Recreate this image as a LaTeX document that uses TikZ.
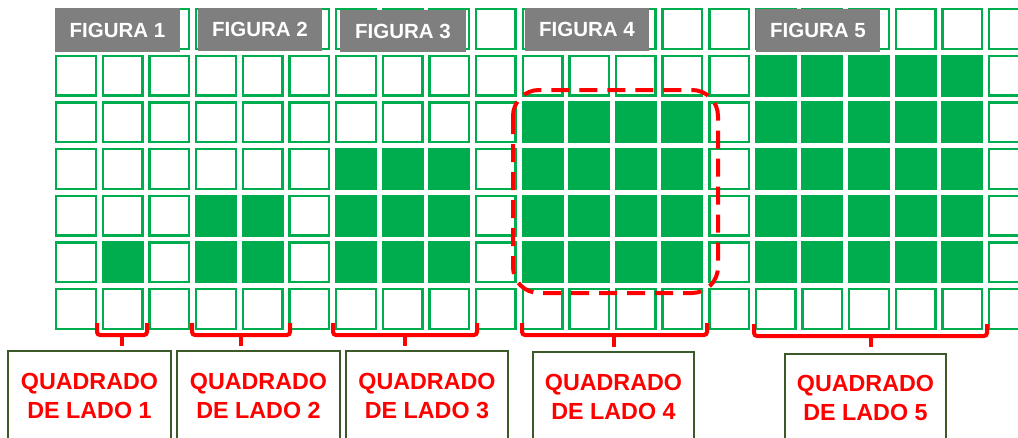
\documentclass[tikz,border=0pt]{standalone}
\usepackage{fontspec}
\setmainfont{Liberation Sans}
\definecolor{cellgreen}{HTML}{00AD4E}
\definecolor{boxgreen}{HTML}{3B5A27}
\definecolor{figgray}{HTML}{7F7F7F}
\definecolor{lblred}{HTML}{FF0000}
\tikzset{
  cellline/.style={draw=cellgreen, line width=2.4pt},
  cellfill/.style={fill=cellgreen},
  figlabel/.style={fill=figgray, text=white, inner sep=0pt, font=\fontsize{20.5}{24}\bfseries\selectfont},
  lblbox/.style={draw=boxgreen, line width=2pt, fill=white, inner sep=0pt, minimum height=89pt,
     text=lblred, align=center, font=\fontsize{23.3}{29}\bfseries\selectfont},
  bracestyle/.style={draw=lblred, line width=4pt, rounded corners=3pt},
  stemstyle/.style={draw=lblred, line width=4pt, shorten >=4pt},
  dashbox/.style={draw=lblred, line width=4pt, dash pattern=on 18pt off 10pt, rounded corners=26pt},
}
\begin{document}
\begin{tikzpicture}[x=1pt,y=-1pt]
\useasboundingbox (0,0) rectangle (1018,437);
\clip (0,0) rectangle (1018,437);
% grid of cells
\foreach \c in {0,...,20}{
  \foreach \r in {0,...,6}{
    \pgfmathsetmacro\xx{55+46.65*\c}
    \pgfmathsetmacro\yy{8+46.65*\r}
    \draw[cellline] (\xx+1.2,\yy+1.2) rectangle ++(39.6,39.6);
  }
}
% filled squares
\foreach \s/\n in {1/1,3/2,6/3,10/4,15/5}{
  \foreach \i in {1,...,\n}{
    \foreach \j in {1,...,\n}{
      \pgfmathsetmacro\xx{55+46.65*(\s+\i-1)}
      \pgfmathsetmacro\yy{8+46.65*(6-\j)}
      \fill[cellfill] (\xx,\yy) rectangle ++(42,42);
    }
  }
}
% figure labels
\node[figlabel, minimum width=125pt, minimum height=44pt] (fig1) at (117.5,30) {FIGURA 1};
\node[figlabel, minimum width=124pt, minimum height=43pt] (fig2) at (260,29.5) {FIGURA 2};
\node[figlabel, minimum width=126pt, minimum height=42pt] (fig3) at (403,31) {FIGURA 3};
\node[figlabel, minimum width=124pt, minimum height=43pt] (fig4) at (587,29.5) {FIGURA 4};
\node[figlabel, minimum width=124pt, minimum height=43pt] (fig5) at (818,30.5) {FIGURA 5};
% dashed highlight around figure 4
\draw[dashbox] (513,90) rectangle (718,293);
% label boxes
\node[lblbox, minimum width=163pt] (q1) at (89.5,395.5) {QUADRADO\\DE LADO 1};
\node[lblbox, minimum width=163pt] (q2) at (258.5,395.5) {QUADRADO\\DE LADO 2};
\node[lblbox, minimum width=162pt] (q3) at (427,395.5) {QUADRADO\\DE LADO 3};
\node[lblbox, minimum width=161pt] (q4) at (613.5,396.5) {QUADRADO\\DE LADO 4};
\node[lblbox, minimum width=161pt] (q5) at (865.5,398) {QUADRADO\\DE LADO 5};
% braces
\draw[bracestyle] (97,323) -- (97,335) -- (147,335) -- (147,323);
\draw[bracestyle] (192,323) -- (192,335) -- (290,335) -- (290,323);
\draw[bracestyle] (333,323) -- (333,335) -- (477,335) -- (477,323);
\draw[bracestyle] (522,323) -- (522,335) -- (707,335) -- (707,323);
\draw[bracestyle] (754,324) -- (754,336) -- (987,336) -- (987,324);
\coordinate (b1) at (122,335);
\coordinate (b2) at (241,335);
\coordinate (b3) at (405,335);
\coordinate (b4) at (614,335);
\coordinate (b5) at (871,336);
\draw[stemstyle] (b1) -- (b1 |- q1.north);
\draw[stemstyle] (b2) -- (b2 |- q2.north);
\draw[stemstyle] (b3) -- (b3 |- q3.north);
\draw[stemstyle] (b4) -- (b4 |- q4.north);
\draw[stemstyle, shorten >=6pt] (b5) -- (b5 |- q5.north);
\end{tikzpicture}
\end{document}
